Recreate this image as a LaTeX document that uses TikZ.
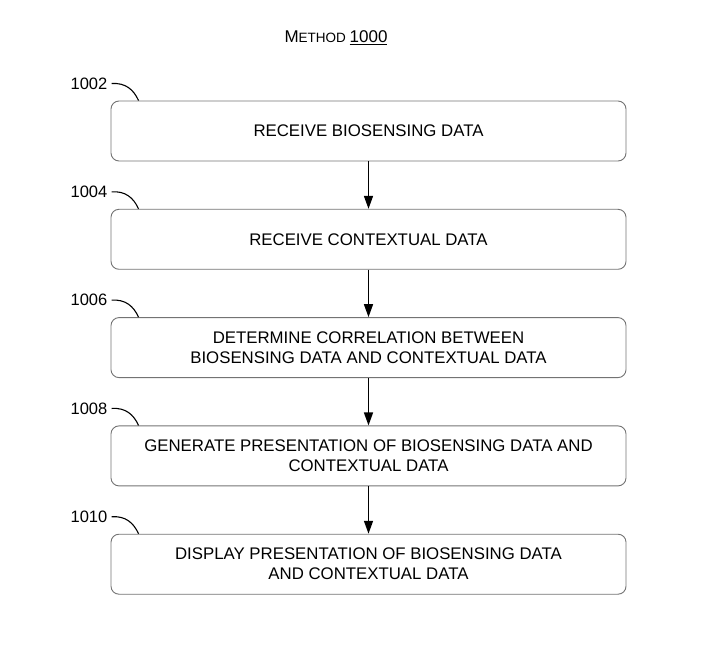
\documentclass[tikz,border=0pt]{standalone}
\usepackage{fontspec}
\setmainfont{Liberation Sans}
\usetikzlibrary{positioning,arrows.meta}

\tikzset{
  stepbox/.style={draw=black!55, line width=0.9pt, rounded corners=8pt,
    minimum width=515pt, minimum height=60pt, align=center,
    font=\fontsize{16.8}{20}\selectfont},
  reflabel/.style={anchor=east, inner sep=1pt, font=\fontsize{16.5}{18}\selectfont},
  flow/.style={-{Triangle[length=13pt,width=9pt]}, line width=1.5pt},
  hook/.style={line width=1.1pt}
}

\begin{document}
\begin{tikzpicture}[x=1pt,y=-1pt]
  \useasboundingbox (0,0) rectangle (726,655);

  % title
  \node (title) at (336,38) {\fontsize{17}{18}\selectfont M\fontsize{13.5}{14}\selectfont ETHOD \fontsize{17}{18}\selectfont\underline{1000}};

  % steps
  \node[stepbox] (s1) at (368.5,131) {RECEIVE BIOSENSING DATA};
  \node[stepbox, below=47.4pt of s1] (s2) {RECEIVE CONTEXTUAL DATA};
  \node[stepbox, below=47.4pt of s2] (s3) {DETERMINE CORRELATION BETWEEN\\BIOSENSING DATA AND CONTEXTUAL DATA};
  \node[stepbox, below=47.4pt of s3] (s4) {GENERATE PRESENTATION OF BIOSENSING DATA AND\\CONTEXTUAL DATA};
  \node[stepbox, below=47.4pt of s4] (s5) {DISPLAY PRESENTATION OF BIOSENSING DATA\\AND CONTEXTUAL DATA};

  \draw[flow] (s1) -- (s2);
  \draw[flow] (s2) -- (s3);
  \draw[flow] (s3) -- (s4);
  \draw[flow] (s4) -- (s5);

  % reference numerals
  \foreach \s/\n in {s1/1002, s2/1004, s3/1006, s4/1008, s5/1010} {
    \coordinate (\s-tip) at ([xshift=28pt]\s.north west);
    \node[reflabel] (\s-num) at ([xshift=-2pt,yshift=17pt]\s.north west) {\n};
    \draw[hook] ([xshift=3pt]\s-num.east) .. controls ++(14,-1) and ++(-5,-11) .. (\s-tip);
  }
\end{tikzpicture}
\end{document}
